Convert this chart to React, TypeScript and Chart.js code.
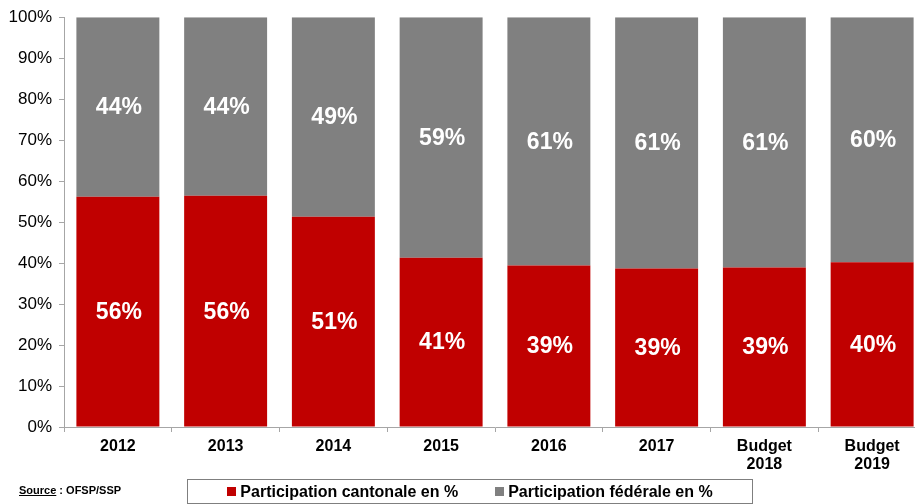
import React, { useEffect, useRef } from 'react';
import { Chart, registerables } from 'chart.js';

Chart.register(...registerables);

const categories: (string | string[])[] = ['2012', '2013', '2014', '2015', '2016', '2017', ['Budget', '2018'], ['Budget', '2019']];
const cantonal = [56.2, 56.4, 51.3, 41.3, 39.4, 38.7, 38.9, 40.2];
const federal = [43.8, 43.6, 48.7, 58.7, 60.6, 61.3, 61.1, 59.8];
const yTicks = [0, 10, 20, 30, 40, 50, 60, 70, 80, 90, 100];
const seriesNames = ['Participation cantonale en %', 'Participation fédérale en %'];
const seriesColors = ['#C00000', '#808080'];

const FONT = "'Liberation Sans', Arial, sans-serif";

const segLabels = {
  id: 'segLabels',
  afterDatasetsDraw(chart: any) {
    const ctx = chart.ctx;
    ctx.save();
    ctx.fillStyle = '#ffffff';
    ctx.font = `bold 23px ${FONT}`;
    ctx.textAlign = 'center';
    ctx.textBaseline = 'middle';
    chart.data.datasets.forEach((ds: any, i: number) => {
      const meta = chart.getDatasetMeta(i);
      meta.data.forEach((bar: any, j: number) => {
        const p = bar.getProps(['x', 'y', 'base'], true);
        ctx.fillText(Math.round(ds.data[j]) + '%', p.x + 1, (p.y + p.base) / 2 + 1);
      });
    });
    ctx.restore();
  },
};

export default function App() {
  const ref = useRef<HTMLCanvasElement>(null);
  useEffect(() => {
    if (!ref.current) return;
    const chart = new Chart(ref.current, {
      type: 'bar',
      data: {
        labels: categories,
        datasets: [
          { label: seriesNames[0], data: cantonal, backgroundColor: seriesColors[0], borderWidth: 0 },
          { label: seriesNames[1], data: federal, backgroundColor: seriesColors[1], borderWidth: 0 },
        ],
      },
      options: {
        responsive: false,
        animation: false,
        devicePixelRatio: 1,
        layout: { padding: { top: 15, right: 4, left: 0, bottom: 0 } },
        plugins: { legend: { display: false }, tooltip: { enabled: false } },
        datasets: { bar: { categoryPercentage: 1, barPercentage: 0.77 } },
        scales: {
          x: {
            stacked: true,
            afterFit: (s: any) => { s.height = 77; },
            grid: { offset: true, drawOnChartArea: false, tickLength: 5, color: '#a6a6a6' },
            border: { color: '#a6a6a6' },
            ticks: { color: '#000', padding: 6, font: { family: FONT, size: 16, weight: 'bold', lineHeight: 1.12 } },
          },
          y: {
            stacked: true,
            min: 0,
            max: 100,
            afterFit: (s: any) => { s.width = 64; },
            afterBuildTicks: (s: any) => { s.ticks = yTicks.map((v) => ({ value: v })); },
            grid: { drawOnChartArea: false, tickLength: 5, color: '#a6a6a6' },
            border: { color: '#a6a6a6' },
            ticks: {
              color: '#000',
              padding: 7,
              font: { family: FONT, size: 17 },
              callback: (v: any) => v + '%',
            },
          },
        },
      },
      plugins: [segLabels],
    } as any);
    return () => chart.destroy();
  }, []);

  return (
    <div style={{ position: 'fixed', left: 0, top: 0, width: 915, height: 504, overflow: 'hidden', background: '#fff' }}>
      <canvas ref={ref} width={930} height={504} style={{ display: 'block', width: 930, height: 504 }} />
      <div style={{ position: 'absolute', left: 19, top: 484, fontFamily: FONT, fontSize: 11, fontWeight: 'bold', color: '#000', whiteSpace: 'nowrap' }}>
        <span style={{ textDecoration: 'underline' }}>Source</span> : OFSP/SSP
      </div>
      <div style={{
        position: 'absolute', left: 187, top: 479, width: 566, height: 25, boxSizing: 'border-box',
        border: '1px solid #7f7f7f', display: 'flex', alignItems: 'center', justifyContent: 'center',
        fontFamily: FONT, fontSize: 16, fontWeight: 'bold', color: '#000', whiteSpace: 'nowrap',
      }}>
        {seriesNames.map((n, i) => (
          <div key={n} style={{ display: 'flex', alignItems: 'center', marginLeft: i ? 37 : 0 }}>
            <span style={{ display: 'inline-block', width: 9, height: 9, background: seriesColors[i], marginRight: 4 }} />
            <span>{n}</span>
          </div>
        ))}
      </div>
    </div>
  );
}
